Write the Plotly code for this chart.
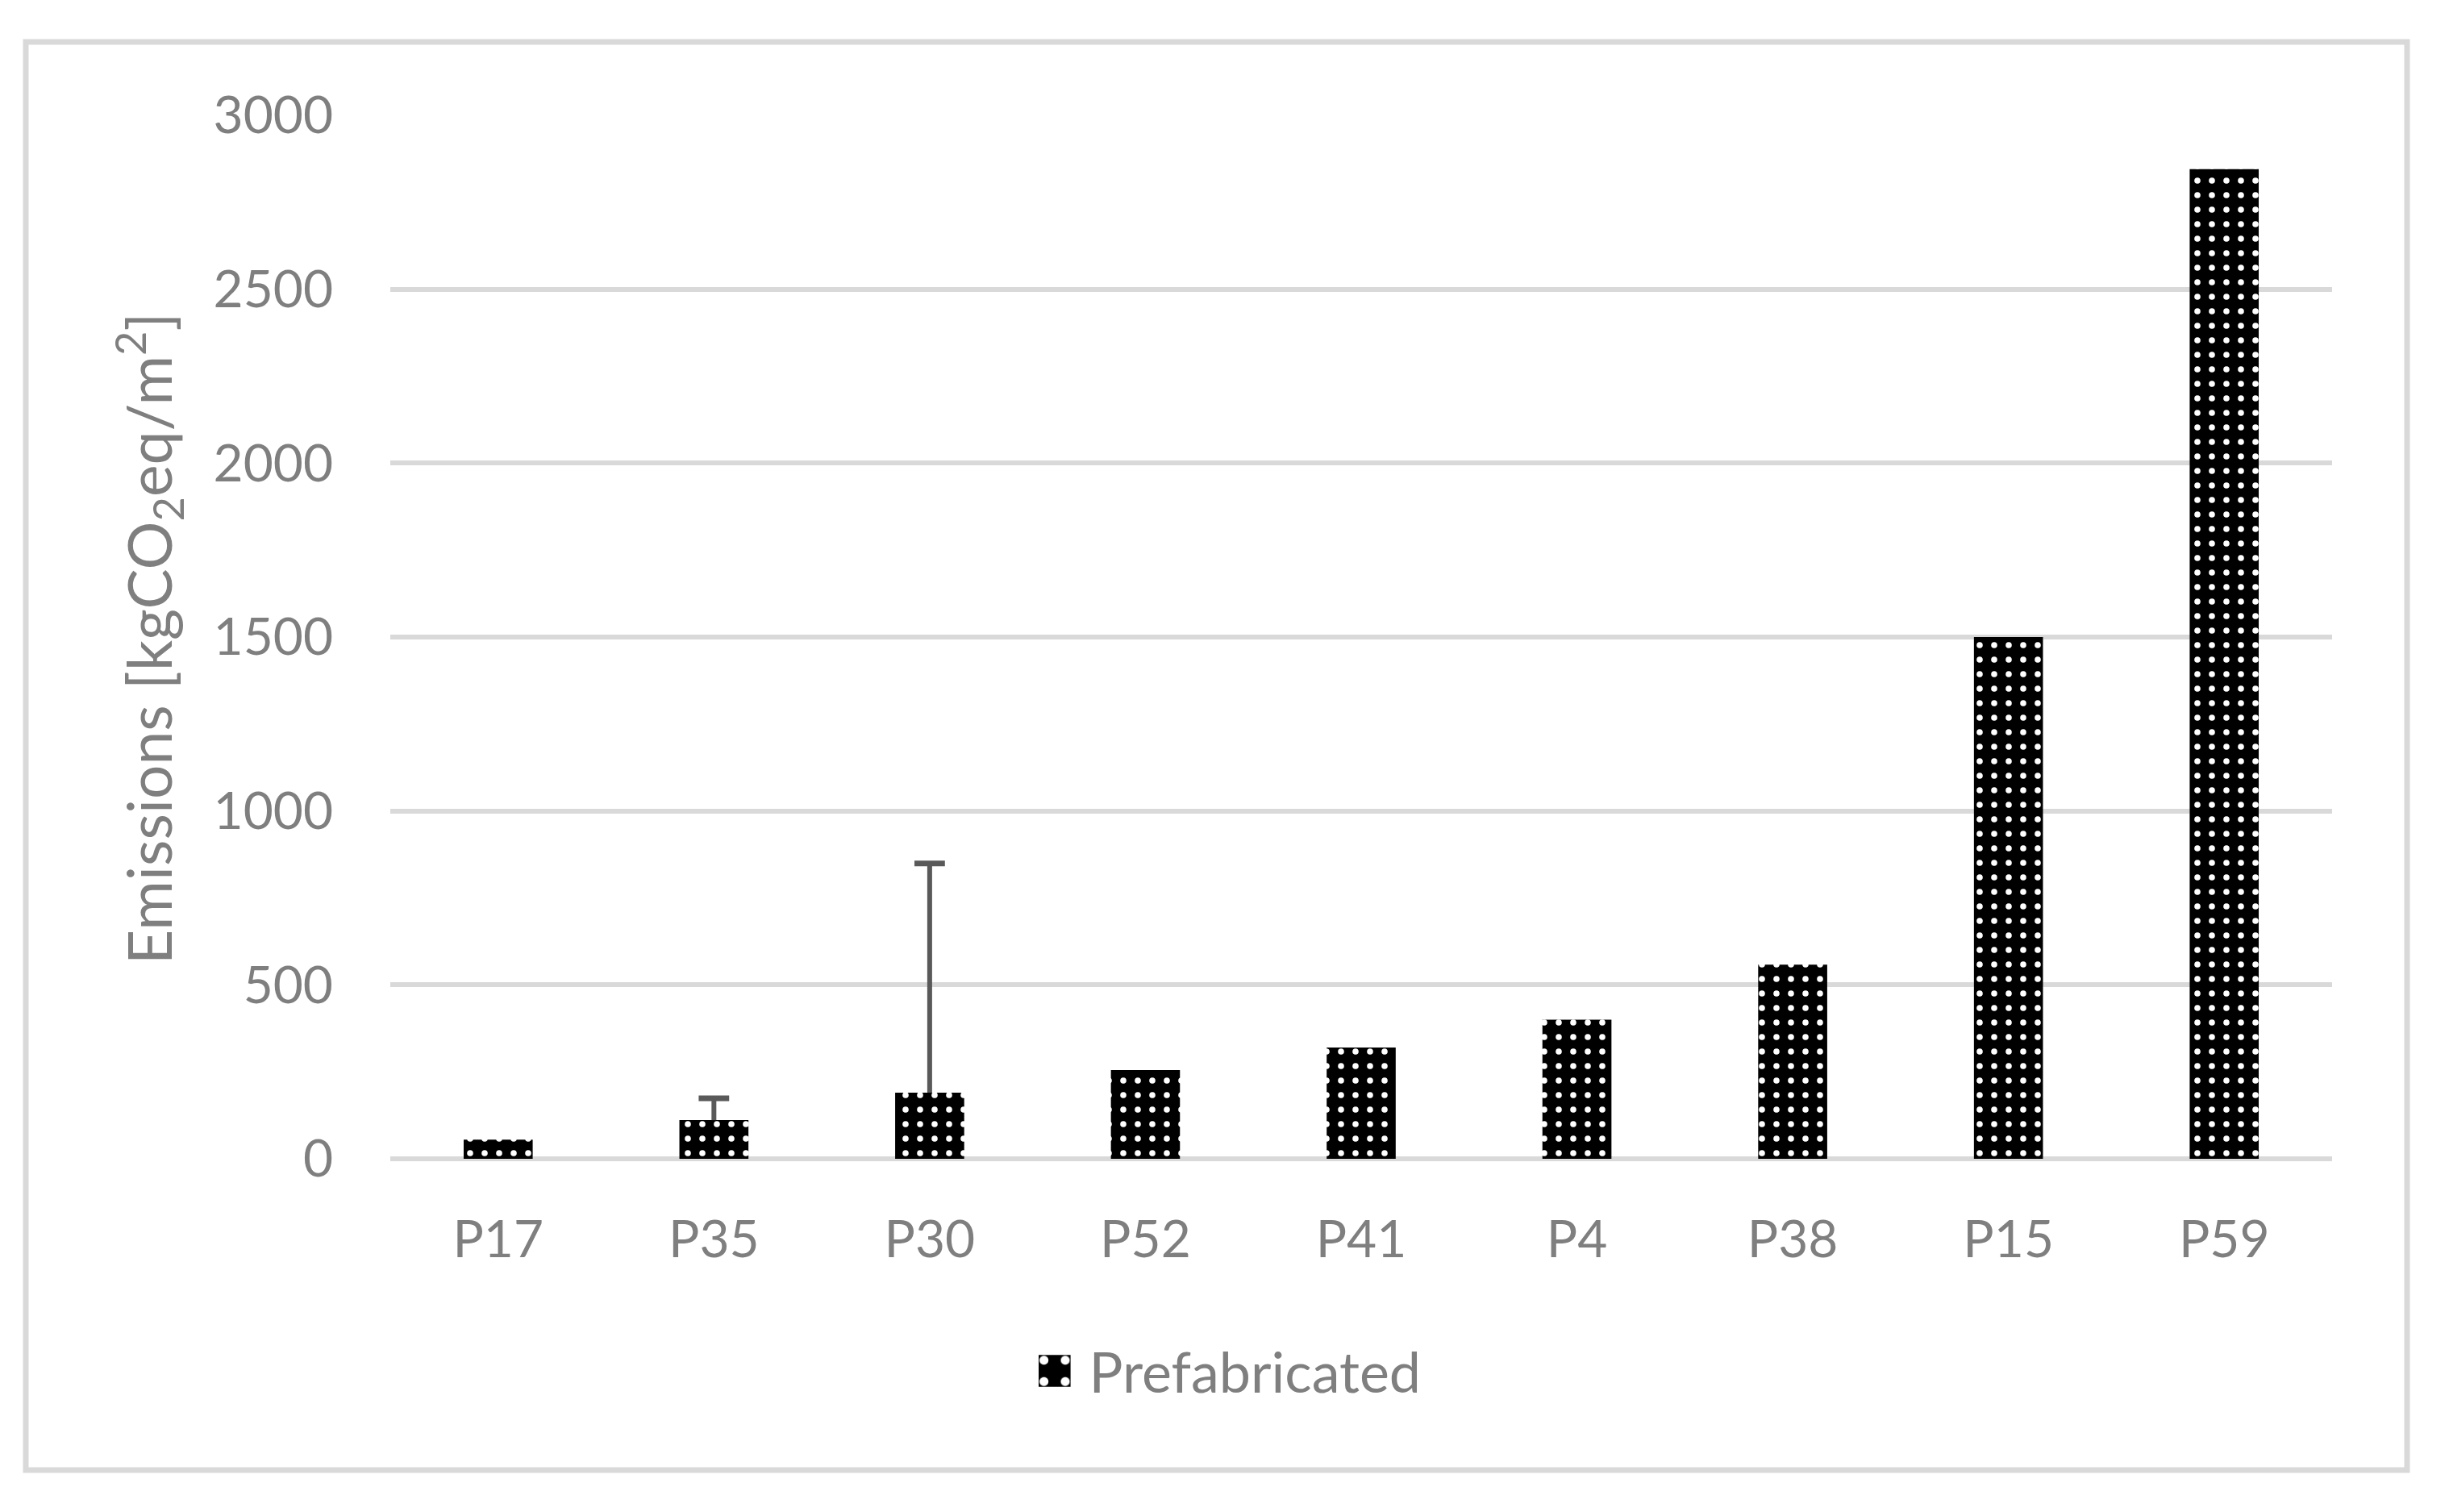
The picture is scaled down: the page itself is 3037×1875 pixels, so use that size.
import plotly.graph_objects as go

categories = ["P17", "P35", "P30", "P52", "P41", "P4", "P38", "P15", "P59"]
emissions = [55, 111, 190, 255, 320, 400, 558, 1500, 2845]
error_plus = [0, 63, 659, 0, 0, 0, 0, 0, 0]
y_ticks = [0, 500, 1000, 1500, 2000, 2500, 3000]

W, H = 3037, 1875
OFF = 8  # page body margin
L, R, T, B = 484, 2892, 143, 1437  # plot area pixel bounds in screenshot
FONT = "Lato"
GREY = "#7f7f7f"

def px(x):
    return (x - L) / (R - L)

def py(y):
    return (B - y) / (B - T)

fig = go.Figure()
fig.add_trace(go.Bar(
    x=categories, y=emissions, name="Prefabricated", width=0.32,
    marker=dict(color="black", line=dict(width=0),
                pattern=dict(shape=".", fgcolor="white", bgcolor="black",
                             size=18, solidity=0.14, fillmode="replace")),
))

# error bars (upper only)
ex, ey, cx, cy = [], [], [], []
for c, v, e in zip(categories, emissions, error_plus):
    if e > 0:
        ex += [c, c, None]
        ey += [v, v + e, None]
        cx.append(c)
        cy.append(v + e)
fig.add_trace(go.Scatter(x=ex, y=ey, mode="lines", line=dict(color="#595959", width=6),
                         showlegend=False, hoverinfo="skip"))
fig.add_trace(go.Scatter(x=cx, y=cy, mode="markers", showlegend=False, hoverinfo="skip",
                         marker=dict(symbol="line-ew", size=27,
                                     line=dict(color="#595959", width=7))))

fig.update_layout(
    width=W, height=H,
    margin=dict(l=L - OFF, r=W - R + OFF, t=T - OFF, b=H - B + OFF, pad=0),
    paper_bgcolor="white", plot_bgcolor="white",
    font=dict(family=FONT, size=64, color=GREY),
    showlegend=True,
    legend=dict(orientation="h", x=px(1522), y=py(1700), xanchor="center", yanchor="middle",
                font=dict(family=FONT, size=70, color=GREY), itemwidth=30,
                bgcolor="rgba(0,0,0,0)"),
    xaxis=dict(type="category", range=[-0.5, len(categories) - 0.5], showgrid=False,
               showline=False, zeroline=False, ticks="", ticklabelstandoff=57,
               tickfont=dict(family=FONT, size=64, color=GREY)),
    yaxis=dict(range=[0, 3000], tickvals=y_ticks, showgrid=True, gridcolor="#d9d9d9",
               gridwidth=6, zeroline=True, zerolinecolor="#d9d9d9", zerolinewidth=6,
               showline=False, ticks="", ticklabelstandoff=70,
               tickfont=dict(family=FONT, size=64, color=GREY)),
    shapes=[dict(type="rect", xref="paper", yref="paper",
                 x0=px(32), x1=px(2985), y0=py(1823), y1=py(52),
                 line=dict(color="#d9d9d9", width=7), fillcolor="rgba(0,0,0,0)", layer="below")],
    annotations=[dict(text="Emissions [kgCO<sub>2</sub>eq/m<sup>2</sup>]", textangle=-90,
                      xref="paper", yref="paper", x=px(184), y=py(792),
                      xanchor="center", yanchor="middle", showarrow=False,
                      font=dict(family=FONT, size=75, color=GREY))],
)

post = """
try {
  document.querySelectorAll('.legend .scrollbox').forEach(function(s){ s.removeAttribute('clip-path'); });
  var p = document.querySelector('.legend .legendpoints path');
  var t0 = p.getAttribute('transform') || '';
  p.setAttribute('transform', t0 + ' scale(3.3)');
  var pr = p.getBoundingClientRect();
  var txt = document.querySelector('.legend .legendtext');
  var tr = txt.getBoundingClientRect();
  var dx = pr.right + 23 - tr.left;
  txt.setAttribute('x', parseFloat(txt.getAttribute('x')) + dx);
  var lg = document.querySelector('g.legend');
  var m = /translate\\(([-\\d.]+)[ ,]+([-\\d.]+)\\)/.exec(lg.getAttribute('transform'));
  var pr2 = p.getBoundingClientRect();
  var ddx = 1288 - pr2.left;
  var ddy = 1700 - (pr2.top + pr2.bottom) / 2;
  lg.setAttribute('transform', 'translate(' + (parseFloat(m[1]) + ddx) + ',' + (parseFloat(m[2]) + ddy) + ')');
} catch (e) { console.log(e); }
"""

fig.write_html("out.html", post_script=post)
